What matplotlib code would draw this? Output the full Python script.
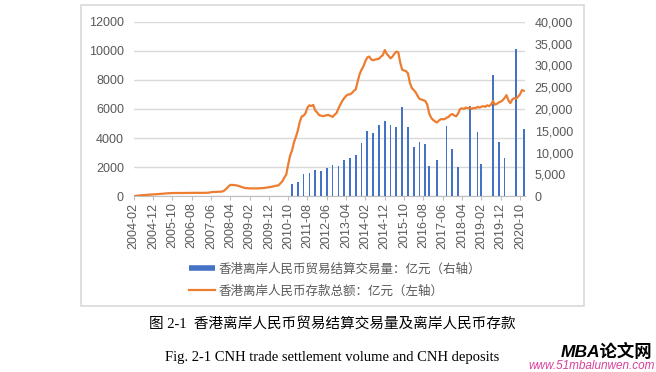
import numpy as np
import pandas as pd
import matplotlib
matplotlib.use("Agg")
import matplotlib.pyplot as plt
from matplotlib.lines import Line2D
from matplotlib.patches import Rectangle
from matplotlib.ticker import FuncFormatter


# ── Data ──────────────────────────────────────────────────────────────────────

# monthly categories, 2004-02 .. 2020-12
months = pd.date_range("2004-02-01", "2020-12-01", freq="MS").strftime("%Y-%m").tolist()

# 香港离岸人民币存款总额 (亿元, left axis), one value per month
deposits = [
    9, 28, 46, 62, 71, 81, 89, 94, 104, 114, 121,                              # 2004
    128, 141, 159, 167, 179, 189, 196, 212, 218, 226, 227, 226,                # 2005
    221, 225, 228, 230, 231, 233, 233, 234, 238, 238, 240, 234,                # 2006
    236, 236, 238, 242, 253, 281, 295, 301, 304, 309, 318, 334,                # 2007
    399, 531, 660, 780, 781, 772, 755, 727, 689, 632, 595, 561,                # 2008
    560, 546, 543, 535, 540, 544, 556, 560, 560, 581, 603, 627,                # 2009
    639, 666, 708, 733, 749, 897, 1035, 1289, 1490, 2171, 2799, 3149,          # 2010
    3707, 4077, 4514, 5107, 5490, 5539, 5720, 6100, 6250, 6200, 6280, 5900,    # 2011
    5761, 5581, 5543, 5506, 5543, 5576, 5581, 5520, 5457, 5600, 5715, 6030,    # 2012
    6300, 6550, 6750, 6900, 7000, 7000, 7100, 7250, 7350, 7900, 8400, 8700,    # 2013
    8950, 9300, 9550, 9600, 9400, 9350, 9400, 9420, 9450, 9600, 9700, 10050,   # 2014
    9800, 9650, 9480, 9600, 9800, 9940, 9900, 9200, 8700, 8650, 8600, 8450,    # 2015
    7800, 7450, 7300, 7150, 6900, 6700, 6650, 6600, 6550, 6300, 5700, 5400,    # 2016
    5250, 5150, 5070, 5200, 5300, 5300, 5300, 5400, 5450, 5600, 5650, 5550,    # 2017
    5500, 5700, 6000, 6050, 6000, 6100, 6050, 6100, 6000, 6080, 6050, 6150,    # 2018
    6100, 6150, 6200, 6150, 6250, 6200, 6300, 6550, 6300, 6350, 6450, 6500,    # 2019
    6600, 6750, 6950, 6600, 6400, 6650, 6750, 6700, 6850, 7000, 7300, 7250,    # 2020
]

# 香港离岸人民币贸易结算交易量 (亿元, right axis)
trade_months = [
    "2010-12", "2011-03", "2011-06", "2011-09", "2011-12", "2012-03", "2012-06",
    "2012-09", "2012-12", "2013-03", "2013-06", "2013-09", "2013-12", "2014-03",
    "2014-06", "2014-09", "2014-12", "2015-03", "2015-06", "2015-09", "2015-12",
    "2016-03", "2016-06", "2016-09", "2016-11", "2017-03", "2017-08", "2017-11",
    "2018-02", "2018-08", "2018-12", "2019-02", "2019-08", "2019-11", "2020-02",
    "2020-08", "2020-12",
]
trade_volume = [
    2800, 3200, 5100, 5400, 5950, 5800, 6400,
    7150, 7000, 8300, 8750, 9420, 12250, 14950,
    14420, 16300, 17250, 16400, 15850, 20500, 15870,
    11330, 12440, 11990, 6980, 8250, 16150, 10840,
    6710, 20700, 14730, 7400, 27700, 12440, 8780,
    33750, 15420,
]

left_ticks = [0, 2000, 4000, 6000, 8000, 10000, 12000]
right_ticks = [0, 5000, 10000, 15000, 20000, 25000, 30000, 35000, 40000]
label_step = 10

bar_label = "香港离岸人民币贸易结算交易量：亿元（右轴）"
line_label = "香港离岸人民币存款总额：亿元（左轴）"
caption_cn = "图 2-1  香港离岸人民币贸易结算交易量及离岸人民币存款"
caption_en = "Fig. 2-1 CNH trade settlement volume and CNH deposits"


# ── Plot ──────────────────────────────────────────────────────────────────────

plt.rcParams["font.family"] = ["Liberation Sans", "Noto Sans CJK SC"]
GRAY = "#595959"
BLUE = "#4472C4"
ORANGE = "#ED7D31"

fig = plt.figure(figsize=(6.56, 3.72), dpi=100)

x = np.arange(len(months))
bar_x = [months.index(m) for m in trade_months]

# left axis: gridlines and ticks
ax = fig.add_axes([0.2037, 0.4723, 0.5966, 0.4694])
ax.set_xlim(0, len(months) - 0.4)
ax.set_ylim(0, 12000)
ax.set_yticks(left_ticks)
ax.yaxis.grid(True, color="#d9d9d9", lw=1)
ax.set_axisbelow(True)
for s in ["left", "right", "top"]:
    ax.spines[s].set_visible(False)
ax.spines["bottom"].set_color("#bfbfbf")
ax.tick_params(axis="y", length=0, pad=7, labelsize=9, labelcolor=GRAY)
ax.set_xticks(x[::label_step])
ax.set_xticklabels(months[::label_step], rotation=90)
ax.tick_params(axis="x", length=3, color="#bfbfbf", pad=1.5, labelsize=9, labelcolor=GRAY)

# right axis: bars
ax2 = ax.twinx()
ax2.bar(bar_x, trade_volume, width=0.9, color=BLUE, linewidth=0)
ax2.set_ylim(0, 40000)
ax2.set_yticks(right_ticks)
ax2.yaxis.set_major_formatter(FuncFormatter(lambda v, p: f"{v:,.0f}"))
ax2.tick_params(axis="y", length=0, pad=7, labelsize=9, labelcolor=GRAY)
for s in ax2.spines.values():
    s.set_visible(False)

# line on top of the bars, same scale as left axis
ax3 = ax.twinx()
ax3.plot(x, deposits, color=ORANGE, lw=1.6)
ax3.set_ylim(0, 12000)
ax3.set_yticks([])
for s in ax3.spines.values():
    s.set_visible(False)

handles = [
    Line2D([], [], color=BLUE, lw=4, solid_capstyle="butt"),
    Line2D([], [], color=ORANGE, lw=1.6),
]
fig.legend(handles, [bar_label, line_label], loc="upper left",
           bbox_to_anchor=(0.288, 0.294), frameon=False, borderpad=0,
           borderaxespad=0, handlelength=2.1, handletextpad=0.3,
           labelspacing=0.7, prop={"family": "Noto Sans CJK SC", "size": 9},
           labelcolor=GRAY)

# chart frame
fig.patches.append(Rectangle((81 / 656, 1 - 306 / 372), 503 / 656, 301 / 372,
                             transform=fig.transFigure, fill=False,
                             ec="#d9d9d9", lw=1.2))

# captions
fig.text(0.506, 1 - 324 / 372, caption_cn, ha="center", va="center",
         fontsize=10.5, family=["Liberation Serif", "Noto Sans CJK SC"])
fig.text(0.506, 1 - 357 / 372, caption_en, ha="center", va="center",
         fontsize=10.5, family="Liberation Serif")

# site watermark
fig.text(0.994, 1 - 351 / 372, "MBA论文网", ha="right", va="center",
         fontsize=12.5, fontweight="bold", style="italic",
         family=["Liberation Sans", "Noto Sans CJK SC"])
fig.text(0.998, 1 - 366 / 372, "www.51mbalunwen.com", ha="right", va="center",
         fontsize=8.5, style="italic", color="#d9409c")

fig.savefig("out.png", dpi=100)
